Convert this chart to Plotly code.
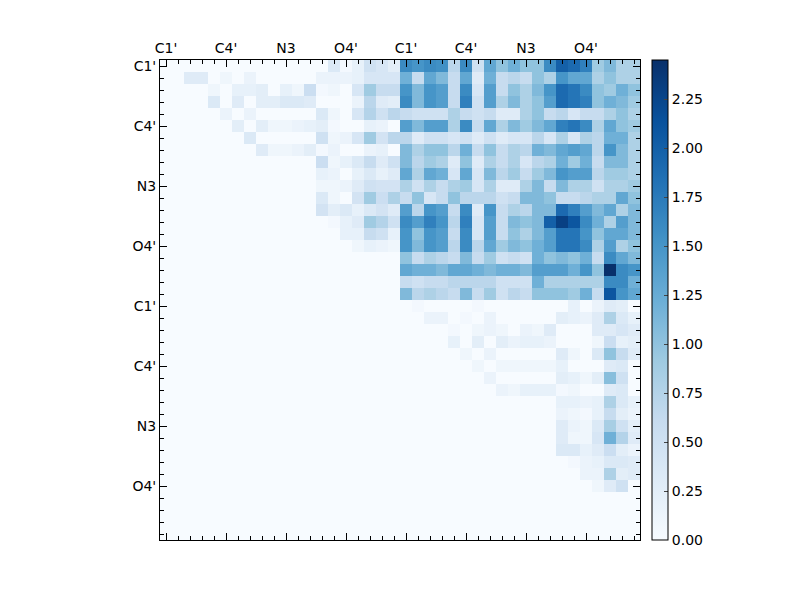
import plotly.graph_objects as go

labels = ["C1'", "C4'", "N3", "O4'", "C1'", "C4'", "N3", "O4'"]
label_pos = [0, 5, 10, 15, 20, 25, 30, 35]

# Inter-residue block: rows 0-19, cols 20-39
cross_block = [
 [1.6,1.5,1.6,1.55,0.7,1.6,0.5,1.3,1.0,1.2,1.0,1.0,1.6,2.0,1.9,1.7,0.9,1.1,0.8,0.8],
 [1.2,0.6,1.3,1.1,0.6,1.3,0.3,1.2,0.6,0.7,0.6,1.0,0.8,1.5,1.3,1.3,0.8,1.0,0.8,0.8],
 [1.5,1.1,1.5,1.4,0.6,1.6,0.4,1.4,0.6,1.0,0.8,1.1,1.5,1.9,1.8,1.6,1.0,0.9,1.2,1.0],
 [1.6,1.1,1.5,1.4,0.6,1.7,0.5,1.4,0.8,1.1,0.8,1.0,1.4,1.9,1.8,1.7,1.0,1.2,1.1,0.9],
 [0.6,0.5,0.5,0.5,0.8,0.6,0.5,0.6,0.3,0.3,0.8,1.0,0.6,0.7,0.4,0.6,0.6,0.8,1.0,0.8],
 [1.4,1.1,1.4,1.4,0.8,1.6,0.6,1.3,0.8,1.1,0.9,1.1,1.3,1.7,1.8,1.6,0.8,1.3,1.0,0.9],
 [0.7,0.3,0.5,0.5,0.4,0.5,0.3,0.5,0.3,0.4,0.4,0.7,0.4,0.8,0.4,0.8,0.7,1.2,1.2,0.8],
 [1.1,0.8,1.0,1.0,0.7,1.2,0.6,1.0,0.6,0.8,0.7,1.2,1.1,1.3,1.4,1.3,0.7,1.5,1.1,0.8],
 [1.1,0.7,0.9,0.8,0.3,1.0,0.3,0.8,0.6,0.8,0.4,0.7,0.8,1.2,0.9,1.2,0.6,1.1,1.1,0.8],
 [1.3,0.8,1.3,1.2,0.4,1.3,0.4,1.1,0.7,0.9,0.6,0.9,1.1,1.5,1.4,1.4,0.7,0.9,0.9,0.8],
 [0.8,0.5,0.8,0.6,0.8,0.9,0.4,0.8,0.3,0.3,0.8,1.1,0.6,1.1,0.8,0.8,0.5,0.8,0.8,0.9],
 [0.6,1.0,0.4,0.6,1.0,0.7,0.7,0.7,0.5,0.6,1.1,1.1,1.0,0.6,0.6,0.7,0.8,0.8,1.3,1.0],
 [1.4,0.7,1.5,1.4,0.6,1.6,0.3,1.5,0.6,0.8,0.7,1.1,1.1,1.9,1.7,1.4,1.1,1.3,0.8,1.1],
 [1.6,1.4,1.7,1.5,0.7,1.7,0.4,1.4,0.6,1.1,1.0,1.1,2.0,2.3,2.1,1.6,1.2,0.8,1.4,1.1],
 [1.5,1.0,1.5,1.4,0.6,1.6,0.4,1.4,0.6,1.0,0.8,1.1,1.4,1.8,1.8,1.5,1.0,1.3,1.3,1.1],
 [1.5,1.1,1.5,1.4,0.7,1.6,0.7,1.3,0.9,1.1,1.0,1.2,1.4,1.8,1.8,1.6,0.8,1.4,0.8,1.0],
 [1.0,0.6,0.8,0.7,0.6,1.1,0.6,0.9,0.5,0.6,0.5,1.2,1.0,1.1,1.0,1.2,0.6,1.6,1.3,1.1],
 [1.3,1.2,1.2,1.1,1.3,1.3,1.2,1.1,1.2,1.2,1.1,1.4,1.4,1.4,1.2,1.5,1.0,2.45,1.6,1.5],
 [0.6,0.5,0.6,0.6,0.7,0.7,0.7,0.7,0.5,0.5,0.5,1.2,0.8,0.8,0.8,0.8,0.8,1.6,1.6,1.2],
 [1.1,0.7,0.8,0.7,0.6,1.1,0.6,0.9,0.5,0.7,0.6,1.0,1.0,1.0,0.9,1.2,0.6,2.1,1.5,1.3],
]

# Residue 1 internal block (row -> {col: value}), rows/cols 0-19
block_a = {
 0: {14:0.35,15:0.05,16:0.2,17:0.5,18:0.4,19:0.25},
 1: {2:0.3,3:0.3,5:0.1,7:0.15,13:0.15,14:0.15,15:0.15,16:0.2,17:0.4,18:0.4,19:0.4},
 2: {4:0.1,6:0.2,7:0.2,8:0.25,10:0.2,11:0.1,12:0.55,13:0.05,14:0.1,16:0.4,17:0.9,18:0.6,19:0.6},
 3: {4:0.35,6:0.3,8:0.25,9:0.25,10:0.35,11:0.35,12:0.3,16:0.15,17:0.7,18:0.3,19:0.25},
 4: {5:0.15,7:0.15,13:0.35,14:0.1,16:0.4,17:0.75,18:0.5,19:0.7},
 5: {6:0.25,8:0.25,9:0.1,10:0.1,11:0.15,12:0.2,13:0.25,14:0.05,17:0.2,18:0.15},
 6: {7:0.35,13:0.5,14:0.1,15:0.15,16:0.4,17:0.9,18:0.45,19:0.7},
 7: {8:0.3,9:0.1,10:0.1,11:0.15,12:0.25,13:0.05,14:0.15,17:0.15,18:0.2},
 8: {13:0.55,14:0.1,15:0.2,16:0.35,17:0.6,18:0.3,19:0.5},
 9: {13:0.2,14:0.15,16:0.2,17:0.35,18:0.2,19:0.3},
 10: {13:0.1,14:0.1,15:0.15,16:0.3,17:0.5,18:0.45,19:0.45},
 11: {13:0.35,14:0.1,16:0.45,17:0.9,18:0.55,19:0.8},
 12: {13:0.45,14:0.25,15:0.35,16:0.2,17:0.35,18:0.45,19:0.3},
 13: {14:0.05,15:0.2,16:0.3,17:0.9,18:0.75,19:0.5},
 14: {15:0.2,16:0.2,17:0.6,18:0.5,19:0.2},
 15: {16:0.1,17:0.2,18:0.15,19:0.1},
}

# Residue 2 internal block (local indices, offset 20)
block_b = {
 0: {1:0.05,6:0.05,14:0.2,16:0.15,17:0.3,18:0.25},
 1: {2:0.15,3:0.15,5:0.05,7:0.15,13:0.25,14:0.2,15:0.15,16:0.3,17:0.8,18:0.35,19:0.2},
 2: {4:0.05,6:0.1,7:0.15,8:0.1,10:0.15,11:0.1,12:0.3,16:0.3,17:0.3,18:0.4,19:0.3},
 3: {4:0.2,6:0.25,8:0.25,9:0.15,10:0.2,11:0.2,12:0.15,16:0.1,17:0.55,18:0.2,19:0.25},
 4: {5:0.1,7:0.15,13:0.3,14:0.1,16:0.35,17:1.0,18:0.6,19:0.3},
 5: {6:0.1,8:0.1,9:0.1,10:0.1,11:0.1,12:0.1,13:0.2,17:0.3,18:0.35},
 6: {7:0.15,13:0.25,14:0.2,15:0.1,16:0.25,17:1.05,18:0.5},
 7: {8:0.15,9:0.1,10:0.2,11:0.2,12:0.2,13:0.05,14:0.1,17:0.3,18:0.35},
 8: {13:0.2,14:0.2,15:0.15,16:0.2,17:0.8,18:0.35,19:0.2},
 9: {13:0.15,14:0.1,15:0.05,16:0.2,17:0.6,18:0.25,19:0.15},
 10: {13:0.3,14:0.15,15:0.1,16:0.35,17:0.85,18:0.5,19:0.25},
 11: {13:0.3,14:0.1,15:0.1,16:0.4,17:1.2,18:0.75,19:0.3},
 12: {13:0.35,14:0.35,15:0.2,16:0.3,17:0.55,18:0.25,19:0.15},
 13: {14:0.05,15:0.15,16:0.2,17:0.35,18:0.35,19:0.3},
 14: {15:0.15,16:0.15,17:0.8,18:0.25,19:0.3},
 15: {16:0.1,17:0.3,18:0.5},
}

N = 40
z = [[0.0] * N for _ in range(N)]
for r, row in enumerate(cross_block):
    for c, v in enumerate(row):
        z[r][20 + c] = v
for r, d in block_a.items():
    for c, v in d.items():
        z[r][c] = v
for r, d in block_b.items():
    for c, v in d.items():
        z[20 + r][20 + c] = v

blues = [[0.0, "#f7fbff"], [0.125, "#deebf7"], [0.25, "#c6dbef"], [0.375, "#9ecae1"],
         [0.5, "#6baed6"], [0.625, "#4292c6"], [0.75, "#2171b5"], [0.875, "#08519c"],
         [1.0, "#08306b"]]

fig = go.Figure(go.Heatmap(
    z=z, x=list(range(N)), y=list(range(N)), colorscale=blues, zmin=0, zmax=2.45,
    colorbar=dict(x=1.025, xanchor="left", xpad=0, ypad=0, thickness=16, len=1,
                  y=0.5, yanchor="middle", outlinewidth=1, outlinecolor="black",
                  tickvals=[0, 0.25, 0.5, 0.75, 1.0, 1.25, 1.5, 1.75, 2.0, 2.25],
                  ticktext=["0.00", "0.25", "0.50", "0.75", "1.00", "1.25", "1.50", "1.75", "2.00", "2.25"],
                  ticks="inside", ticklen=4, tickfont=dict(size=14, color="black"))
))

axis_common = dict(tickvals=label_pos, ticktext=labels, ticks="inside", ticklen=7,
                   showgrid=False, zeroline=False, showline=True, linecolor="black",
                   mirror="ticks", tickcolor="black", tickfont=dict(size=14, color="black"),
                   automargin=False,
                   minor=dict(dtick=1, tick0=0, ticks="inside", ticklen=4, tickcolor="black"))

fig.update_layout(
    width=800, height=600, paper_bgcolor="white", plot_bgcolor="white",
    margin=dict(l=152, r=168, t=52, b=68, autoexpand=False),
    font=dict(family="DejaVu Sans"),
    xaxis=dict(side="top", range=[-0.5, 39.5], **axis_common),
    yaxis=dict(range=[39.5, -0.5], **axis_common),
)
fig.write_html("out.html")
